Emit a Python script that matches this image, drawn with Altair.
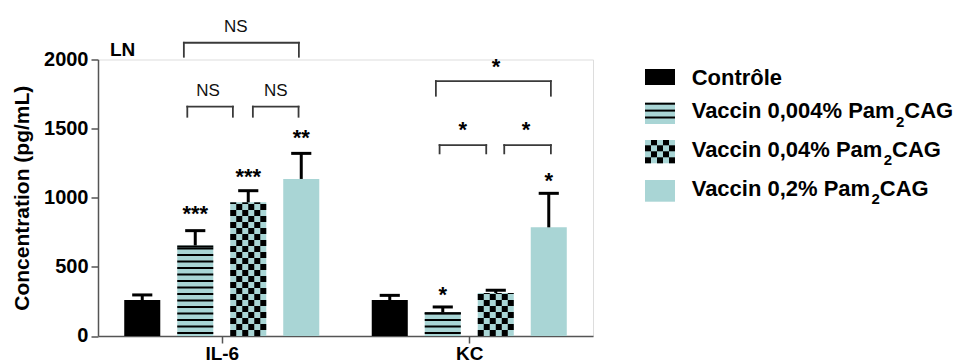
import altair as alt
import pandas as pd

# ---------------- data ----------------
groups = ["IL-6", "KC"]
series = ["Contrôle", "Vaccin 0,004% Pam2CAG", "Vaccin 0,04% Pam2CAG", "Vaccin 0,2% Pam2CAG"]
fills = ["black", "#A9D5D5", "#A9D5D5", "#A9D5D5"]
patterns = ["solid", "stripes", "checker", "solid"]
il6_mean = [260, 655, 967, 1136]
il6_sem = [37, 107, 84, 185]
kc_mean = [260, 171, 311, 786]
kc_sem = [34, 39, 20, 246]
il6_stars = ["", "***", "***", "**"]
kc_stars = ["", "*", "", "*"]
il6_star_y = [0, 830, 1102, 1384]
kc_star_y = [0, 249, 0, 1068]
y_ticks = [0, 500, 1000, 1500, 2000]
panel_label = "LN"
y_title = "Concentration (pg/mL)"

# comparison brackets (x as offsets from group centre, in bar steps)
br_group = ["IL-6", "IL-6", "IL-6", "KC", "KC", "KC"]
br_text = ["NS", "NS", "NS", "*", "*", "*"]
br_left = [-0.715, -0.65, 0.587, -0.63, -0.56, 0.66]
br_right = [1.455, 0.21, 1.449, 1.54, 0.32, 1.54]
br_y = [2121, 1659, 1659, 1844, 1381, 1381]
br_leg = [2020, 1586, 1586, 1738, 1321, 1321]
br_text_x = [0.266, -0.258, 1.02, 0.506, -0.123, 1.07]
br_text_y = [2201, 1733, 1733, 1898, 1437, 1437]

means = {"IL-6": il6_mean, "KC": kc_mean}
sems = {"IL-6": il6_sem, "KC": kc_sem}
stars = {"IL-6": il6_stars, "KC": kc_stars}
star_y = {"IL-6": il6_star_y, "KC": kc_star_y}

# ---------------- layout / style ----------------
FONT = "Liberation Sans"
TEAL = "#A9D5D5"
GW = 4.67            # group width in bar steps
X_MAX = 2 * GW
PX_X = 53.0          # px per bar step
WIDTH = X_MAX * PX_X
Y_MAX = 2000
HEIGHT = 276.5
PX_Y = HEIGHT / Y_MAX
VIEW_LEFT, VIEW_TOP = 98.0, 59.5   # page coords of plot origin
BAR_HALF = 0.34
CAP_HALF = 0.19
STAR_FS = 22


def gx(g, off):
    return (groups.index(g) + 0.5) * GW + off


def dx_px(px):
    return (px - VIEW_LEFT) / PX_X


def dy_px(py):
    return (VIEW_TOP + HEIGHT - py) / PX_Y


STRIPE_PERIOD = 6.5 / PX_Y
STRIPE_START = 3.0 / PX_Y
CELL_H = 6.0 / PX_Y
CELL_W = 2 * BAR_HALF / 6

# ---------------- derived tables ----------------
bar_rows, stripe_rows, cell_rows = [], [], []
for g in groups:
    for k, s in enumerate(series):
        xc = gx(g, k - 1.5)
        m, e = means[g][k], sems[g][k]
        x0, x1 = xc - BAR_HALF, xc + BAR_HALF
        bar_rows.append(dict(group=g, series=s, xc=xc, x0=x0, x1=x1,
                             ca=xc - CAP_HALF, cb=xc + CAP_HALF, zero=0,
                             mean=m, top=m + e, fill=fills[k],
                             star=stars[g][k], sy=star_y[g][k]))
        if patterns[k] == "stripes":
            y = STRIPE_START
            while y < m - 0.5 / PX_Y:
                stripe_rows.append(dict(a=x0, b=x1, y=y))
                y += STRIPE_PERIOD
            stripe_rows.append(dict(a=x0, b=x1, y=m - 1.0 / PX_Y))
        if patterns[k] == "checker":
            r = 0
            while r * CELL_H < m:
                for c in range(6):
                    if (r + c) % 2 == 0:
                        cell_rows.append(dict(a=x0 + c * CELL_W, b=x0 + (c + 1) * CELL_W,
                                              y0=r * CELL_H, y1=min((r + 1) * CELL_H, m)))
                r += 1
bars = pd.DataFrame(bar_rows)

br = pd.DataFrame(dict(
    text=br_text,
    xl=[gx(g, o) for g, o in zip(br_group, br_left)],
    xr=[gx(g, o) for g, o in zip(br_group, br_right)],
    y=br_y, leg=br_leg,
    tx=[gx(g, o) for g, o in zip(br_group, br_text_x)],
    ty=br_text_y))

# legend geometry (page px)
LEG_SYM_X = (645, 675)
LEG_TEXT_X = 691.7
leg_top = [69, 102.7, 140, 180]
leg_bot = [85, 124, 163.3, 201.7]
leg_base = [85, 118.3, 156.7, 195.7]
LEG_FS, SUB_FS, SUB_DROP = 22, 15, 8.5

W = {' ': 278, '%': 889, ',': 278, 'A': 722, 'C': 722, 'G': 778, 'P': 667, 'V': 667,
     'a': 556, 'c': 556, 'i': 278, 'm': 889, 'n': 611, 'e': 556, 'l': 278, 'o': 611,
     'r': 389, 't': 333, 'ô': 611}
for d in "0123456789":
    W[d] = 556


def tw(s, size):
    return sum(W.get(ch, 556) for ch in s) * size / 1000.0


leg_sym, leg_text = [], []
for k, s in enumerate(series):
    sx0, sx1 = dx_px(LEG_SYM_X[0]), dx_px(LEG_SYM_X[1])
    leg_sym.append(dict(a=sx0, b=sx1, y0=dy_px(leg_bot[k]), y1=dy_px(leg_top[k]), fill=fills[k]))
    if patterns[k] == "stripes":
        py = leg_top[k] + 1
        while py < leg_bot[k]:
            stripe_rows.append(dict(a=sx0, b=sx1, y=dy_px(py)))
            py += 6.9
    if patterns[k] == "checker":
        ncol = 5
        cw = (sx1 - sx0) / ncol
        r = 0
        py = leg_bot[k]
        while py > leg_top[k] + 0.5:
            ptop = max(py - 6.0, leg_top[k])
            for c in range(ncol):
                if (r + c) % 2 == 0:
                    cell_rows.append(dict(a=sx0 + c * cw, b=sx0 + (c + 1) * cw,
                                          y0=dy_px(py), y1=dy_px(ptop)))
            py -= 6.0
            r += 1
    base = dy_px(leg_base[k])
    if "Pam2" in s:
        pre, post = s.split("Pam2")
        pre = pre + "Pam"
        xs = LEG_TEXT_X + tw(pre, LEG_FS)
        xp = xs + tw("2", SUB_FS)
        leg_text += [dict(t=pre, x=dx_px(LEG_TEXT_X), y=base, fs=LEG_FS),
                     dict(t="2", x=dx_px(xs), y=dy_px(leg_base[k] + SUB_DROP), fs=SUB_FS),
                     dict(t=post, x=dx_px(xp), y=base, fs=LEG_FS)]
    else:
        leg_text.append(dict(t=s, x=dx_px(LEG_TEXT_X), y=base, fs=LEG_FS))

stripes = pd.DataFrame(stripe_rows)
cells = pd.DataFrame(cell_rows)
legsym = pd.DataFrame(leg_sym)
legtext = pd.DataFrame(leg_text)
panel = pd.DataFrame(dict(t=[panel_label], x=[dx_px(110)], y=[dy_px(56)]))

# ---------------- scales / axes ----------------
xs = alt.Scale(domain=[0, X_MAX], nice=False, zero=False)
ys = alt.Scale(domain=[0, Y_MAX], nice=False)
label_list = "[" + ",".join("'%s'" % g for g in groups) + "]"
xaxis = alt.Axis(values=[gx(g, 0) for g in groups],
                 labelExpr="%s[floor(datum.value / %f)]" % (label_list, GW),
                 title=None, grid=False, tickSize=7, tickWidth=1.5, tickColor="#555",
                 domainColor="#555", domainWidth=1.5, labelFontSize=19,
                 labelFontWeight="bold", labelColor="black", labelPadding=2, labelFlush=False)
yaxis = alt.Axis(values=y_ticks, format="d", title=y_title, grid=False, tickSize=7,
                 tickWidth=1.5, tickColor="#555", domainColor="#555", domainWidth=1.5,
                 labelFontSize=20, labelFontWeight="bold", labelColor="black",
                 labelPadding=3, titleFontSize=21, titleFontWeight="bold",
                 titleColor="black", titlePadding=11)


def X(f):
    return alt.X(f, type="quantitative", scale=xs, axis=xaxis)


def Y(f):
    return alt.Y(f, type="quantitative", scale=ys, axis=yaxis)


base = alt.Chart(bars)
bar_layer = base.mark_rect().encode(x=X("x0"), x2="x1", y=Y("zero"), y2="mean",
                                    color=alt.Color("fill:N", scale=None))
leg_sym_layer = alt.Chart(legsym).mark_rect().encode(x=X("a"), x2="b", y=Y("y0"), y2="y1",
                                                    color=alt.Color("fill:N", scale=None))
stripe_layer = alt.Chart(stripes).mark_rule(color="black", strokeWidth=2).encode(
    x=X("a"), x2="b", y=Y("y"))
cell_layer = alt.Chart(cells).mark_rect(color="black").encode(
    x=X("a"), x2="b", y=Y("y0"), y2="y1")
stem = base.mark_rule(color="black", strokeWidth=3).encode(x=X("xc"), y=Y("mean"), y2="top")
cap = base.mark_rule(color="black", strokeWidth=3).encode(x=X("ca"), x2="cb", y=Y("top"))
star_layer = alt.Chart(bars[bars.star != ""]).mark_text(
    fontSize=STAR_FS, fontWeight="bold", baseline="alphabetic", align="center", color="black"
).encode(x=X("xc"), y=Y("sy"), text="star:N")

BRC = "#3a3a3a"
br_h = alt.Chart(br).mark_rule(color=BRC, strokeWidth=1.8, strokeCap="square").encode(
    x=X("xl"), x2="xr", y=Y("y"))
br_l = alt.Chart(br).mark_rule(color=BRC, strokeWidth=1.8, strokeCap="square").encode(
    x=X("xl"), y=Y("leg"), y2="y")
br_r = alt.Chart(br).mark_rule(color=BRC, strokeWidth=1.8, strokeCap="square").encode(
    x=X("xr"), y=Y("leg"), y2="y")
br_ns = alt.Chart(br[br.text == "NS"]).mark_text(
    fontSize=17, baseline="alphabetic", align="center", color="#111"
).encode(x=X("tx"), y=Y("ty"), text="text:N")
br_st = alt.Chart(br[br.text != "NS"]).mark_text(
    fontSize=STAR_FS, fontWeight="bold", baseline="alphabetic", align="center", color="black"
).encode(x=X("tx"), y=Y("ty"), text="text:N")

leg_text_layer = alt.Chart(legtext).mark_text(
    fontWeight="bold", baseline="alphabetic", align="left", color="black"
).encode(x=X("x"), y=Y("y"), text="t:N", size=alt.Size("fs:Q", scale=None))
panel_layer = alt.Chart(panel).mark_text(
    fontSize=19, fontWeight="bold", baseline="alphabetic", align="left", color="black"
).encode(x=X("x"), y=Y("y"), text="t:N")

chart = alt.layer(
    bar_layer, leg_sym_layer, stripe_layer, cell_layer, stem, cap, star_layer,
    br_h, br_l, br_r, br_ns, br_st, leg_text_layer, panel_layer
).properties(
    width=WIDTH, height=HEIGHT,
    padding={"left": VIEW_LEFT - 8, "top": VIEW_TOP - 8, "right": 360, "bottom": 28},
    autosize=alt.AutoSizeParams(type="none"),
).configure_view(stroke=None).configure(font=FONT)

chart.save("out.html", embed_options={"renderer": "svg", "actions": False})
